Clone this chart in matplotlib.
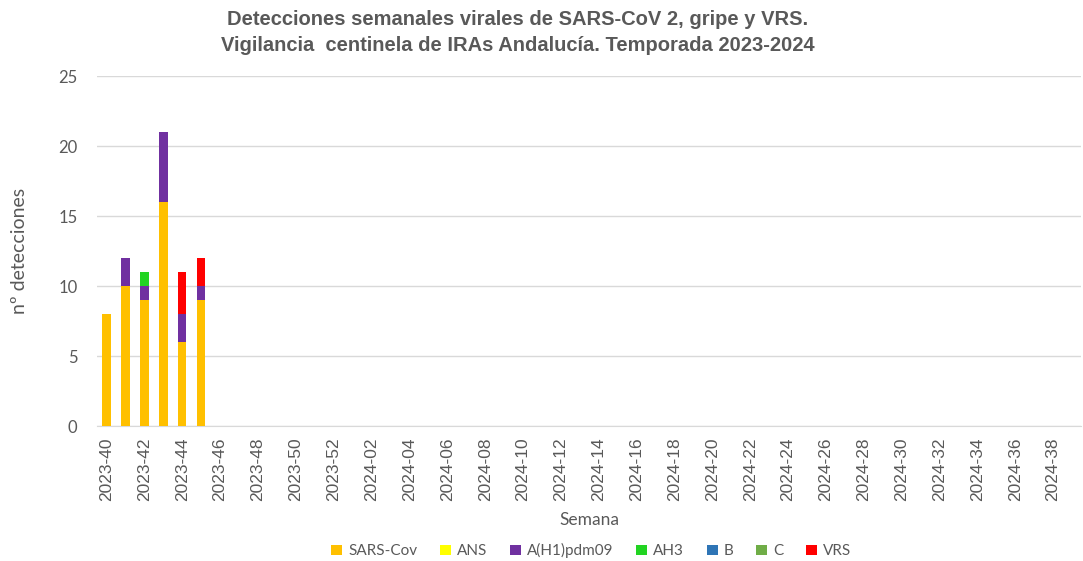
import numpy as np
import matplotlib.pyplot as plt

# Weeks of the season 2023-40 .. 2024-39
semanas = ['2023-%02d' % w for w in range(40, 53)] + ['2024-%02d' % w for w in range(1, 40)]

# Detections per week (only first weeks have data)
sars = [8, 10, 9, 16, 6, 9]
ans = [0, 0, 0, 0, 0, 0]
h1 = [0, 2, 1, 5, 2, 1]
ah3 = [0, 0, 1, 0, 0, 0]
b = [0, 0, 0, 0, 0, 0]
c = [0, 0, 0, 0, 0, 0]
vrs = [0, 0, 0, 0, 3, 2]

series = [('SARS-Cov', sars, '#FFC000'),
          ('ANS', ans, '#FFFF00'),
          ('A(H1)pdm09', h1, '#7030A0'),
          ('AH3', ah3, '#22D422'),
          ('B', b, '#2E75B6'),
          ('C', c, '#70AD47'),
          ('VRS', vrs, '#FF0000')]

grey = '#595959'
fig = plt.figure(figsize=(10.83, 5.61), dpi=100)
ax = fig.add_axes([0.0896, 0.2406, 0.909, 0.6239])

x = np.arange(len(semanas))
bottom = np.zeros(len(semanas))
for name, vals, col in series:
    v = np.zeros(len(semanas))
    v[:len(vals)] = vals
    ax.bar(x, v, bottom=bottom, width=0.45, color=col, label=name, zorder=3)
    bottom += v

ax.set_xlim(-0.5, len(semanas) - 0.5)
ax.set_ylim(0, 25)
ax.set_yticks(range(0, 26, 5))
ax.yaxis.grid(True, color='#D9D9D9', linewidth=1, zorder=0)
ax.set_xticks(x[::2])
ax.set_xticklabels(semanas[::2], rotation=90, fontsize=12.5, color=grey, family='Liberation Sans')
for lab in ax.get_yticklabels():
    lab.set_fontsize(12)
    lab.set_color(grey)
    lab.set_family('Lato')
ax.tick_params(axis='both', length=0, pad=8)
ax.tick_params(axis='y', pad=14)
for s in ['top', 'right', 'left']:
    ax.spines[s].set_visible(False)
ax.spines['bottom'].set_color('#D9D9D9')

ax.set_ylabel('nº detecciones', fontsize=14, color=grey, family='Lato', labelpad=22)
ax.set_xlabel('Semana', fontsize=12.5, color=grey, family='Lato', labelpad=8)

fig.text(0.478, 0.982, 'Detecciones semanales virales de SARS-CoV 2, gripe y VRS.\n'
         'Vigilancia  centinela de IRAs Andalucía. Temporada 2023-2024',
         ha='center', va='top', fontsize=14.5, fontweight='bold', color=grey,
         family='Liberation Sans', linespacing=1.45)

fig.legend(loc='center', bbox_to_anchor=(0.546, 0.018), ncol=7, frameon=False,
           handlelength=0.7, handleheight=0.7, handletextpad=0.4,
           columnspacing=1.5, prop={'family': 'Lato', 'size': 11}, labelcolor=grey)

fig.savefig('out.png', dpi=100)
